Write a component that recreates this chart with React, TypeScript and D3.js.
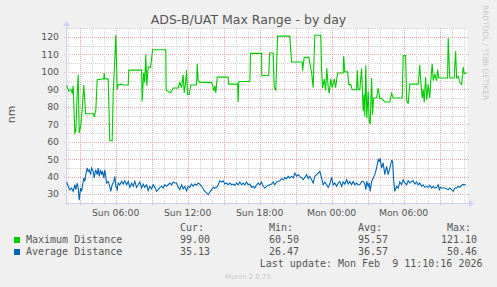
import * as d3 from "d3";

// minutes since Sun 8 Feb 2026 00:00 (UTC) and values in nm
const maxTimes = [
  115, 126, 136, 143, 148, 156, 161, 168, 173, 178, 186, 193, 201, 210, 250, 253, 261, 268, 301, 303,
  306, 323, 331, 343, 348, 356, 361, 368, 373, 390, 398, 423, 426, 490, 493, 500, 506, 511, 516, 523,
  535, 545, 611, 613, 636, 640, 648, 673, 681, 690, 698, 703, 710, 715, 720, 728, 736, 765, 768, 773,
  781, 840, 848, 853, 856, 861, 868, 923, 925, 970, 973, 976, 1031, 1035, 1090, 1091, 1126, 1130, 1148, 1153,
  1161, 1170, 1231, 1240, 1293, 1295, 1303, 1326, 1340, 1348, 1356, 1386, 1390, 1395, 1403, 1410, 1416, 1423, 1428, 1436,
  1443, 1453, 1460, 1470, 1498, 1500, 1506, 1520, 1526, 1536, 1543, 1565, 1568, 1573, 1581, 1590, 1598, 1603, 1606, 1611,
  1616, 1623, 1628, 1633, 1640, 1645, 1650, 1665, 1673, 1681, 1690, 1706, 1731, 1740, 1748, 1793, 1798, 1810, 1815, 1823,
  1831, 1873, 1881, 1886, 1893, 1898, 1903, 1910, 1916, 1923, 1931, 1936, 1943, 1948, 1956, 1965, 1970, 1976, 2020, 2023,
  2031, 2053, 2060, 2065, 2073, 2081, 2090, 2098, 2103, 2110, 2114,
];
const maxValues = [
  92.3, 89, 90, 88, 92, 65, 66, 88, 98.4, 65, 69, 79, 92.5, 76, 76, 74, 78, 95.5, 96, 99.5,
  96, 96, 60.5, 60.5, 88, 107, 121.1, 90, 92.5, 93, 92.5, 92.5, 101, 101, 83, 99.5, 94, 110, 92, 103,
  102.5, 112.7, 112.7, 89.5, 88, 89, 90.8, 90.8, 94, 91, 98.4, 88, 94, 101, 87, 87, 92.5, 92.5, 104.7, 95,
  94, 94, 91, 89, 92, 88, 97, 97, 93, 93, 82.7, 94.5, 94.5, 110.6, 110.6, 97.8, 98, 110.8, 110.8, 91,
  89.6, 120.5, 120.5, 105.7, 105.7, 100.7, 108.3, 108.3, 99.5, 91, 121, 121, 101, 90.7, 96, 89.5, 102, 91, 87.7, 96,
  91, 96, 91, 99.4, 99.4, 108.9, 100, 100, 92.7, 92.7, 89.8, 89.8, 101, 89.8, 89.8, 102, 77.4, 87, 74.5, 103.8,
  73.6, 88.8, 71.7, 70, 96.5, 75.4, 85, 85, 90.8, 84.6, 85, 82.7, 82.7, 87.7, 85, 85, 109.3, 109.5, 84, 81.7,
  93, 93, 104, 94, 85, 90, 82.5, 97, 84, 93, 85, 95, 104.5, 95, 98.8, 95, 101.3, 96.5, 96.5, 119.4,
  96.5, 96.5, 111.8, 96.5, 97.5, 94, 92.7, 102.7, 99, 99.4, 99,
];

const avgTimes = [
  115, 123, 131, 140, 148, 156, 161, 168, 173, 178, 185, 190, 195, 201, 206, 211, 218, 223, 228, 235,
  240, 248, 253, 260, 268, 273, 278, 285, 290, 295, 301, 306, 315, 323, 331, 336, 343, 351, 356, 361,
  368, 373, 381, 390, 398, 406, 415, 423, 431, 440, 448, 456, 465, 473, 481, 490, 498, 506, 515, 523,
  531, 540, 548, 556, 565, 573, 581, 590, 598, 606, 615, 623, 631, 640, 648, 656, 665, 673, 681, 690,
  698, 706, 715, 723, 731, 740, 748, 756, 765, 773, 781, 790, 798, 806, 815, 823, 831, 840, 848, 856,
  865, 873, 881, 890, 898, 906, 915, 923, 931, 940, 948, 956, 965, 973, 981, 990, 998, 1006, 1015, 1023,
  1031, 1040, 1048, 1056, 1065, 1073, 1081, 1090, 1098, 1106, 1115, 1123, 1131, 1140, 1148, 1156, 1165, 1173, 1181, 1190,
  1198, 1206, 1215, 1223, 1231, 1240, 1248, 1256, 1265, 1273, 1281, 1290, 1298, 1306, 1315, 1323, 1331, 1340, 1348, 1356,
  1365, 1373, 1381, 1390, 1398, 1406, 1415, 1423, 1431, 1440, 1448, 1456, 1465, 1473, 1481, 1490, 1498, 1506, 1515, 1523,
  1531, 1540, 1548, 1556, 1565, 1573, 1581, 1590, 1598, 1606, 1611, 1616, 1623, 1628, 1633, 1640, 1648, 1656, 1665, 1673,
  1678, 1683, 1690, 1698, 1706, 1715, 1723, 1731, 1740, 1745, 1751, 1756, 1765, 1773, 1781, 1790, 1798, 1806, 1815, 1823,
  1831, 1840, 1848, 1856, 1865, 1873, 1881, 1890, 1898, 1906, 1915, 1923, 1931, 1940, 1948, 1956, 1965, 1973, 1978, 1983,
  1990, 2006, 2023, 2031, 2040, 2048, 2056, 2065, 2073, 2081, 2090, 2098, 2106, 2111,
];
const avgValues = [
  36.9, 34.4, 32.5, 33.4, 31.5, 35.4, 32.5, 36.3, 33.4, 26.5, 33.4, 31.5, 35.3, 39.2, 37.2, 41.1, 44.9, 43.0, 43.9, 41.1,
  44.9, 43.0, 39.2, 43.9, 41.1, 44.9, 40.1, 43.9, 41.1, 43.0, 39.2, 43.9, 36.3, 37.2, 34.4, 31.5, 35.3, 37.2, 40.1, 34.4,
  32.5, 36.3, 35.3, 37.2, 35.7, 37.6, 35.3, 37.2, 33.8, 36.3, 34.4, 37.2, 33.8, 35.3, 36.9, 33.4, 35.7, 33.8, 35.3, 31.9,
  34.4, 33.0, 35.3, 33.8, 31.5, 32.5, 33.8, 34.4, 33.4, 35.3, 34.4, 35.3, 36.3, 35.3, 36.9, 36.3, 36.3, 33.8, 32.5, 35.3,
  33.0, 34.4, 31.9, 34.4, 33.8, 35.7, 34.4, 35.7, 35.0, 36.3, 35.7, 34.4, 33.0, 31.5, 30.6, 29.6, 31.1, 32.5, 33.8, 33.4,
  33.8, 35.3, 37.6, 36.9, 37.6, 35.7, 36.3, 35.3, 36.3, 35.3, 35.7, 35.0, 36.3, 35.3, 36.9, 35.3, 36.3, 35.3, 36.9, 35.3,
  35.7, 33.8, 34.4, 33.4, 35.3, 36.3, 35.3, 36.9, 34.4, 33.4, 34.4, 35.0, 35.3, 35.7, 36.9, 35.3, 36.9, 37.2, 37.6, 38.8,
  38.2, 39.5, 38.8, 40.1, 39.2, 40.1, 39.2, 42.0, 40.1, 41.1, 40.1, 39.2, 38.2, 39.5, 41.1, 38.8, 40.1, 38.2, 36.3, 40.1,
  41.1, 42.0, 43.0, 39.2, 35.3, 36.9, 35.3, 33.8, 35.7, 39.5, 35.3, 36.3, 34.4, 36.3, 37.2, 34.4, 36.9, 35.7, 38.2, 35.7,
  37.2, 35.3, 37.2, 35.3, 36.3, 35.3, 35.3, 37.2, 37.2, 35.7, 32.5, 37.2, 34.4, 36.3, 31.5, 37.2, 39.2, 41.1, 44.9, 49.7,
  48.7, 50.5, 44.9, 47.8, 41.1, 45.8, 41.1, 44.9, 49.1, 48.7, 37.2, 31.5, 34.4, 33.4, 36.9, 35.3, 38.2, 36.3, 35.3, 37.6,
  36.3, 37.2, 37.6, 35.7, 36.9, 35.3, 36.3, 34.4, 35.3, 33.8, 34.4, 33.8, 35.0, 33.4, 34.4, 33.4, 33.8, 35.3, 32.5, 33.8,
  33.4, 33.4, 32.5, 33.4, 32.5, 31.5, 33.4, 33.4, 34.4, 33.8, 35.0, 35.5, 35.3, 35.1,
];

const seriesNames = ["Maximum Distance", "Average Distance"];
const seriesColors = ["#00cc00", "#0066b3"];
const statHeaders = ["Cur:", "Min:", "Avg:", "Max:"];
const curStats = ["99.00", "35.13"];
const minStats = ["60.50", "26.47"];
const avgStats = ["95.57", "36.57"];
const maxStats = ["121.10", "50.46"];

const BASE = Date.UTC(2026, 1, 8);
const toDate = (m: number) => new Date(BASE + m * 60000);

const W = 497;
const H = 287;
const left = 67;
const right = 467;
const top = 28;
const bottom = 203;

const sans = "'DejaVu Sans', sans-serif";
const mono = "'DejaVu Sans Mono', monospace";

export default function App() {
  const x = d3.scaleUtc().domain([toDate(117), toDate(2117)]).range([left, right]);
  const y = d3.scaleLinear().domain([24.84, 125.16]).range([bottom, top]);

  const hours = x.ticks(d3.utcHour.every(1)!);
  const labelTicks = x.ticks(d3.utcHour.every(6)!);
  const fmt = d3.utcFormat("%a %H:%M");
  const yMinor = y.ticks(20);
  const yLabels = y.ticks(10);

  const line = d3
    .line<[number, number]>()
    .x((d) => x(toDate(d[0])))
    .y((d) => y(d[1]));

  const maxData = maxTimes.map((t, i) => [t, maxValues[i]] as [number, number]);
  const avgData = avgTimes.map((t, i) => [t, avgValues[i]] as [number, number]);

  const colEnds = [210, 299, 388, 477];
  const statCols = [curStats, minStats, avgStats, maxStats];

  return (
    <svg
      width={W}
      height={H}
      style={{ position: "absolute", left: 0, top: 0, background: "#f0f0f0" }}
    >
      <rect x={0} y={0} width={W} height={H} fill="#f0f0f0" />
      <rect x={left} y={top} width={right - left} height={bottom - top} fill="#ffffff" />

      {/* grid */}
      {yMinor.map((v) => {
        const major = v % 10 === 0;
        return (
          <line
            key={"h" + v}
            x1={major ? left - 3 : left}
            x2={major ? right + 2 : right}
            y1={Math.round(y(v)) + 0.5}
            y2={Math.round(y(v)) + 0.5}
            stroke={major ? "#f0a8a8" : "#d4d4d4"}
            strokeDasharray="1,1"
          />
        );
      })}
      {hours.map((h) => {
        const major = h.getUTCHours() % 3 === 0;
        const px = Math.round(x(h)) + 0.5;
        return (
          <line
            key={"v" + h.getTime()}
            x1={px}
            x2={px}
            y1={top}
            y2={major ? bottom + 3 : bottom + 1}
            stroke={major ? "#f0a8a8" : "#d4d4d4"}
            strokeDasharray="1,1"
          />
        );
      })}

      {/* axes */}
      <line x1={left - 2} x2={right + 2} y1={bottom + 0.5} y2={bottom + 0.5} stroke="#cbd2f2" />
      <path d={`M${right + 2},${bottom - 3} L${right + 7},${bottom + 0.5} L${right + 2},${bottom + 4} Z`} fill="#cbd2f2" />
      <line x1={left - 0.5} x2={left - 0.5} y1={bottom + 2} y2={top - 2} stroke="#cbd2f2" />
      <path d={`M${left - 4},${top - 2} L${left - 0.5},${top - 7} L${left + 3},${top - 2} Z`} fill="#cbd2f2" />

      {/* series */}
      <path d={line(maxData) ?? ""} fill="none" stroke={seriesColors[0]} strokeWidth={1.1} />
      <path d={line(avgData) ?? ""} fill="none" stroke={seriesColors[1]} strokeWidth={1.1} />

      {/* labels */}
      <text x={248.5} y={24} textAnchor="middle" fontFamily={sans} fontSize={12.5} fill="#555">
        ADS-B/UAT Max Range - by day
      </text>
      {yLabels.map((v) => (
        <text key={"yl" + v} x={59} y={y(v) + 3.4} textAnchor="end" fontFamily={sans} fontSize={9.3} fill="#555">
          {v}
        </text>
      ))}
      {labelTicks.map((d) => (
        <text key={"xl" + d.getTime()} x={x(d)} y={216} textAnchor="middle" fontFamily={sans} fontSize={9.3} fill="#555">
          {fmt(d)}
        </text>
      ))}
      <text transform="translate(14.5,114.5) rotate(-90)" textAnchor="middle" fontFamily={sans} fontSize={11} fill="#555">
        nm
      </text>
      <text transform="translate(483,5) rotate(90)" fontFamily={sans} fontSize={7.4} fill="#c8c8c8">
        RRDTOOL / TOBI OETIKER
      </text>

      {/* legend */}
      {statHeaders.map((h, i) => (
        <text key={h} x={colEnds[i] - 6} y={230.5} textAnchor="end" fontFamily={mono} fontSize={10} fill="#555">
          {h}
        </text>
      ))}
      {seriesNames.map((name, r) => (
        <g key={name}>
          <rect x={14} y={237 + r * 12} width={6} height={6} fill={seriesColors[r]} />
          <text x={26} y={243.3 + r * 12} fontFamily={mono} fontSize={10} fill="#555">
            {name}
          </text>
          {statCols.map((col, c) => (
            <text key={c} x={colEnds[c]} y={243.3 + r * 12} textAnchor="end" fontFamily={mono} fontSize={10} fill="#555">
              {col[r]}
            </text>
          ))}
        </g>
      ))}
      <text x={482.5} y={267} textAnchor="end" fontFamily={mono} fontSize={10} fill="#555" style={{ whiteSpace: "pre" }}>
        {"Last update: Mon Feb  9 11:10:16 2026"}
      </text>
      <text x={248} y={279} textAnchor="middle" fontFamily={sans} fontSize={7} fill="#c8c8c8">
        Munin 2.0.75
      </text>
    </svg>
  );
}
